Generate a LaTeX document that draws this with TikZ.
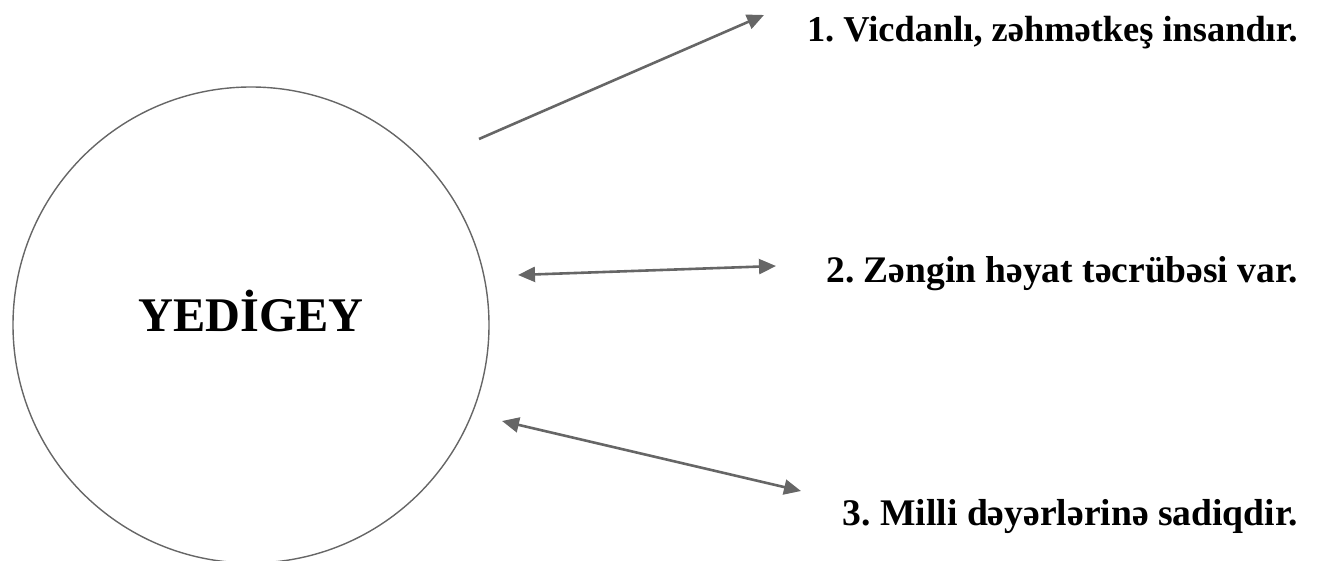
\documentclass[tikz,border=0pt]{standalone}
\usepackage{fontspec}
\setmainfont{Liberation Serif}
\usetikzlibrary{arrows.meta}
\definecolor{linegray}{HTML}{666666}
\frenchspacing
\begin{document}
\begin{tikzpicture}[x=1pt,y=-1pt,
  conn/.style={draw=linegray, line width=2.6pt, -{Triangle[length=17pt,width=15pt]}},
  dconn/.style={conn, {Triangle[length=17pt,width=15pt]}-{Triangle[length=17pt,width=15pt]}},
  trait/.style={anchor=base east, inner sep=0pt, font=\fontsize{#1}{42}\selectfont\bfseries}]
\useasboundingbox (0,0) rectangle (1318,561);
% central figure
\node[circle, draw=linegray, line width=1.4pt, minimum size=476pt, inner sep=0pt] (hero) at (251,325) {};
\node[anchor=base, inner sep=0pt, font=\fontsize{48.3}{54}\selectfont\bfseries] (name) at (251,332) {YEDİGEY};
% traits
\node[trait=36.4] (t1) at (1298,42) {1. Vicdanlı, zəhmətkeş insandır.};
\node[trait=37.5] (t2) at (1298,283) {2. Zəngin həyat təcrübəsi var.};
\node[trait=37.6] (t3) at (1298,525) {3. Milli dəyərlərinə sadiqdir.};
% connector ends
\coordinate (a1s) at (479,139);
\coordinate (a1e) at (764,15);
\coordinate (a2s) at (518,275);
\coordinate (a2e) at (776,266);
\coordinate (a3s) at (502,421);
\coordinate (a3e) at (801,491);
% connectors
\draw[conn] (a1s) -- (a1e);
\draw[dconn] (a2s) -- (a2e);
\draw[dconn] (a3s) -- (a3e);
\end{tikzpicture}
\end{document}
